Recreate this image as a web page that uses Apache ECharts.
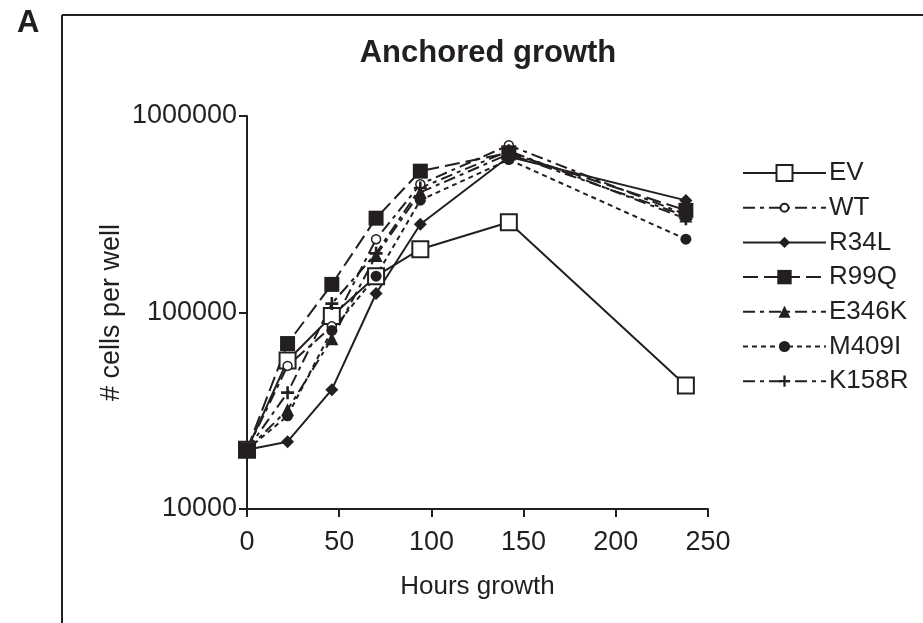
<!DOCTYPE html>
<html>

<head>
    <meta charset="UTF-8">
    <script src="https://cdn.jsdelivr.net/npm/echarts@6/dist/echarts.min.js"></script>
    <style>
        body { margin: 0; background: #fff; }
    </style>
</head>

<body>
    <div id="main" style="width: 923px; height: 623px;"></div>
    <script>
        // hours after seeding
        var hours = [0, 22, 46, 70, 94, 142, 238];
        var names = ['EV', 'WT', 'R34L', 'R99Q', 'E346K', 'M409I', 'K158R'];
        var ev = [20000, 57000, 96000, 153000, 210000, 288000, 42500];
        var wt = [20000, 53500, 85000, 236000, 450000, 710000, 315000];
        var r34l = [20000, 22000, 40500, 125000, 281000, 620000, 372000];
        var r99q = [20000, 69500, 139000, 302000, 524000, 650000, 331000];
        var e346k = [20000, 32000, 73500, 195000, 409000, 640000, 310000];
        var m409i = [20000, 29800, 81000, 153000, 373000, 600000, 236000];
        var k158r = [20000, 39100, 111000, 200000, 430000, 665000, 300000];
        var xTicks = [0, 50, 100, 150, 200, 250];

        var font = 'Liberation Sans';
        var ink = '#231f20';
        var plus = 'path://M4,0H6V4H10V6H6V10H4V6H0V4H4Z';
        // legend icon heights (symbol is drawn at 80% of this)
        var legendH = [20, 10, 14, 18, 15, 14, 14];

        function pairs(vals) {
            return hours.map(function (h, i) { return [h, vals[i]]; });
        }

        function mk(name, vals, dash, symbol, size, fill, bw) {
            return {
                name: name,
                type: 'line',
                data: pairs(vals),
                symbol: symbol,
                symbolSize: size,
                showAllSymbol: true,
                clip: false,
                lineStyle: { color: ink, width: 2, type: dash },
                itemStyle: { color: fill, borderColor: ink, borderWidth: bw, opacity: 1 },
                emphasis: { disabled: true }
            };
        }

        var legends = names.map(function (n, i) {
            return {
                orient: 'vertical',
                left: 742,
                top: 173 + i * 34.7 - 13,
                itemWidth: 83,
                itemHeight: legendH[i],
                itemGap: 0,
                padding: 0,
                selectedMode: false,
                textStyle: { fontFamily: font, fontSize: 26, color: ink, lineHeight: 26, padding: [0, 0, 0, -2] },
                data: [n]
            };
        });

        var myChart = echarts.init(document.getElementById('main'));
        var option = {
            animation: false,
            title: {
                text: 'Anchored growth',
                left: 483,
                textAlign: 'center',
                top: 33,
                textStyle: { fontFamily: font, fontSize: 31, fontWeight: 'bold', color: ink }
            },
            legend: legends,
            grid: { left: 247, right: 215, top: 116, bottom: 114 },
            xAxis: {
                type: 'value',
                min: 0,
                max: 250,
                interval: 50,
                name: 'Hours growth',
                nameLocation: 'middle',
                nameGap: 65,
                nameMoveOverlap: false,
                nameTextStyle: { fontFamily: font, fontSize: 26, color: ink },
                axisLine: { lineStyle: { color: ink, width: 2 } },
                axisTick: { length: 8, lineStyle: { color: ink, width: 2 } },
                axisLabel: {
                    fontFamily: font, fontSize: 27, color: ink, margin: 20,
                    formatter: function (v) { return xTicks.indexOf(v) >= 0 ? String(v) : ''; }
                },
                splitLine: { show: false }
            },
            yAxis: {
                type: 'log',
                logBase: 10,
                min: 10000,
                max: 1000000,
                name: '# cells per well',
                nameLocation: 'middle',
                nameGap: 122,
                nameMoveOverlap: false,
                nameTextStyle: { fontFamily: font, fontSize: 27, color: ink },
                axisLine: { show: true, lineStyle: { color: ink, width: 2 } },
                axisTick: { show: true, length: 8, lineStyle: { color: ink, width: 2 } },
                minorTick: { show: false },
                axisLabel: {
                    fontFamily: font, fontSize: 27, color: ink, margin: 10,
                    formatter: function (v) { return String(Math.round(v)); }
                },
                splitLine: { show: false }
            },
            graphic: [
                { type: 'line', shape: { x1: 62, y1: 15, x2: 923, y2: 15 }, style: { stroke: ink, lineWidth: 2 } },
                { type: 'line', shape: { x1: 62, y1: 15, x2: 62, y2: 623 }, style: { stroke: ink, lineWidth: 2 } },
                { type: 'text', left: 17, top: 8, style: { text: 'A', font: 'bold 31px "Liberation Sans"', fill: ink } }
            ],
            series: [
                mk('EV', ev, 'solid', 'rect', 16, '#fff', 2),
                mk('WT', wt, [12, 5, 4, 5], 'circle', 9, '#fff', 1.5),
                mk('R34L', r34l, 'solid', 'diamond', 13, ink, 0),
                mk('R99Q', r99q, [15, 6], 'rect', 15, ink, 0),
                mk('E346K', e346k, [12, 5, 4, 5], 'triangle', 13, ink, 0),
                mk('M409I', m409i, [5, 4], 'circle', 11, ink, 0),
                mk('K158R', k158r, [12, 5, 4, 5], plus, 13, ink, 0)
            ]
        };
        myChart.setOption(option);
    </script>
</body>

</html>
